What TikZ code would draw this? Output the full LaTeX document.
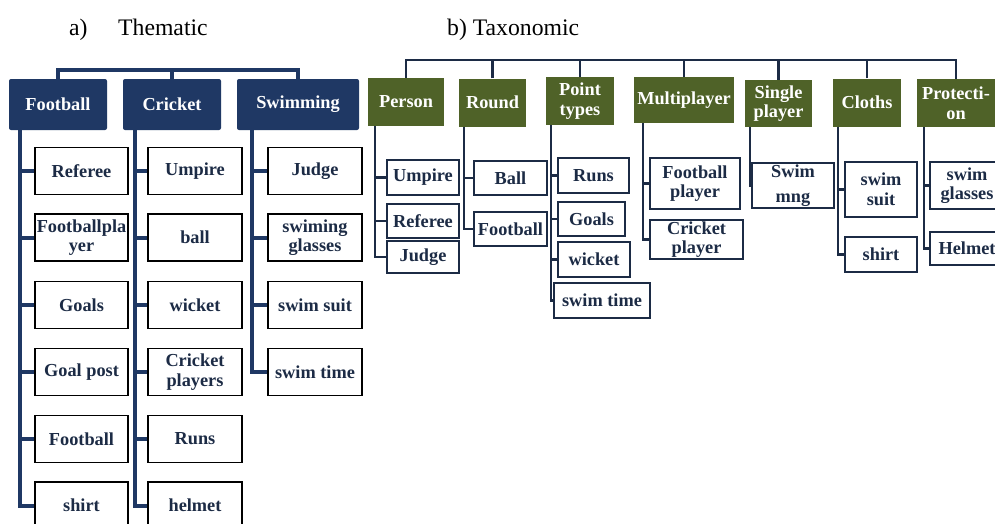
\documentclass[tikz,border=0pt]{standalone}
\usepackage{fontspec}
\setmainfont{Liberation Serif}
\usetikzlibrary{positioning}
\definecolor{hdblue}{HTML}{1F3864}
\definecolor{hdolive}{HTML}{4F6228}
\definecolor{lfink}{HTML}{1C2B45}
\newcommand{\lblfont}{\bfseries\fontsize{18.3}{19.5}\selectfont}
\newcommand{\ttlfont}{\fontsize{23.7}{26}\selectfont}

\begin{document}
\begin{tikzpicture}[x=1pt,y=-1pt]
\tikzstyle{every node}+=[inner sep=0pt]
\tikzstyle{thead}=[fill=hdblue,rounded corners=2pt,text=white,font=\lblfont,align=center,minimum height=51pt]
\tikzstyle{tleaf}=[draw=black,line width=1.8pt,fill=white,text=lfink,font=\lblfont,align=center,minimum height=47pt]
\tikzstyle{xhead}=[fill=hdolive,text=white,font=\lblfont,align=center,minimum height=48pt]
\tikzstyle{xleaf}=[draw=lfink,line width=1.9pt,fill=white,text=lfink,font=\lblfont,align=center]
\tikzstyle{tbus}=[draw=hdblue,line width=4pt]
\tikzstyle{xbus}=[draw=lfink,line width=2.1pt]
\clip (0,0) rectangle (995,523);
\fill [white] (0,0) rectangle (995,523);
\node [anchor=base west,font=\ttlfont] (tmlabel) at (69,35) {a)};
\node [anchor=base west,font=\ttlfont] (tmtitle) at (118,35) {Thematic};
\node [anchor=base west,font=\ttlfont] (txtitle) at (447,35) {b) Taxonomic};
\coordinate (ttop) at (0,70);
\coordinate (xtop) at (0,60);
\node [thead,minimum width=98pt] (fb) at (58,104.5) {Football};
\node [thead,minimum width=98pt] (ck) at (172,104.5) {Cricket};
\node [thead,minimum width=122pt] (sw) at (298,104.5) {Swimming};
\draw [tbus] (fb.north) -- (fb.north |- ttop) -| (sw.north);
\draw [tbus] (ck.north) -- (ck.north |- ttop);
\node [tleaf,minimum width=93pt] (fb1) at (81.5,171) {Referee};
\node [tleaf,minimum width=93pt] (fb2) at (81.5,237.5) {Footballpla\\yer};
\node [tleaf,minimum width=93pt] (fb3) at (81.5,305) {Goals};
\node [tleaf,minimum width=93pt] (fb4) at (81.5,372) {Goal post};
\node [tleaf,minimum width=93pt] (fb5) at (81.5,439) {Football};
\node [tleaf,minimum width=93pt] (fb6) at (81.5,505.5) {shirt};
\node [tleaf,minimum width=94pt] (ck1) at (195,171) {Umpire};
\node [tleaf,minimum width=94pt] (ck2) at (195,237.5) {ball};
\node [tleaf,minimum width=94pt] (ck3) at (195,305) {wicket};
\node [tleaf,minimum width=94pt] (ck4) at (195,372) {Cricket\\players};
\node [tleaf,minimum width=94pt] (ck5) at (195,439) {Runs};
\node [tleaf,minimum width=94pt] (ck6) at (195,505.5) {helmet};
\node [tleaf,minimum width=94pt] (sw1) at (315,171) {Judge};
\node [tleaf,minimum width=94pt] (sw2) at (315,237.5) {swiming\\glasses};
\node [tleaf,minimum width=94pt] (sw3) at (315,305) {swim suit};
\node [tleaf,minimum width=94pt] (sw4) at (315,372) {swim time};
\draw [tbus] ([xshift=11pt]fb.south west) |- (fb1.west);
\draw [tbus] ([xshift=11pt]fb.south west) |- (fb2.west);
\draw [tbus] ([xshift=11pt]fb.south west) |- (fb3.west);
\draw [tbus] ([xshift=11pt]fb.south west) |- (fb4.west);
\draw [tbus] ([xshift=11pt]fb.south west) |- (fb5.west);
\draw [tbus] ([xshift=11pt]fb.south west) |- (fb6.west);
\draw [tbus] ([xshift=12pt]ck.south west) |- (ck1.west);
\draw [tbus] ([xshift=12pt]ck.south west) |- (ck2.west);
\draw [tbus] ([xshift=12pt]ck.south west) |- (ck3.west);
\draw [tbus] ([xshift=12pt]ck.south west) |- (ck4.west);
\draw [tbus] ([xshift=12pt]ck.south west) |- (ck5.west);
\draw [tbus] ([xshift=12pt]ck.south west) |- (ck6.west);
\draw [tbus] ([xshift=15pt]sw.south west) |- (sw1.west);
\draw [tbus] ([xshift=15pt]sw.south west) |- (sw2.west);
\draw [tbus] ([xshift=15pt]sw.south west) |- (sw3.west);
\draw [tbus] ([xshift=15pt]sw.south west) |- (sw4.west);
\node [xhead,minimum width=76pt] (per) at (406,102) {Person};
\node [xhead,minimum width=67pt] (rnd) at (492.5,102.5) {Round};
\node [xhead,minimum width=68pt] (pnt) at (580,101) {Point\\types};
\node [xhead,minimum width=100pt,minimum height=46pt] (mpl) at (684,100) {Multiplayer};
\node [xhead,minimum width=67pt,minimum height=47pt] (spl) at (778.5,103.5) {Single\\player};
\node [xhead,minimum width=68pt] (clo) at (867,102.5) {Cloths};
\node [xhead,minimum width=78pt] (pro) at (956,103) {Protecti-\\on};
\draw [xbus] (per.north) -- (per.north |- xtop) -| (pro.north);
\draw [xbus] (rnd.north) -- (rnd.north |- xtop);
\draw [xbus] (pnt.north) -- (pnt.north |- xtop);
\draw [xbus] (mpl.north) -- (mpl.north |- xtop);
\draw [xbus] (spl.north) -- (spl.north |- xtop);
\draw [xbus] (clo.north) -- (clo.north |- xtop);
\node [xleaf,minimum width=72pt,minimum height=35pt] (per1) at (423,177.5) {Umpire};
\node [xleaf,minimum width=72pt,minimum height=34pt] (per2) at (423,221) {Referee};
\node [xleaf,minimum width=72pt,minimum height=32pt] (per3) at (423,257) {Judge};
\node [xleaf,minimum width=73pt,minimum height=34pt] (rnd1) at (510.5,178) {Ball};
\node [xleaf,minimum width=73pt,minimum height=34pt] (rnd2) at (510.5,229) {Football};
\node [xleaf,minimum width=71pt,minimum height=35pt] (pnt1) at (593.5,175.5) {Runs};
\node [xleaf,minimum width=67pt,minimum height=34pt] (pnt2) at (591.5,219) {Goals};
\node [xleaf,minimum width=72pt,minimum height=35pt] (pnt3) at (594,259.5) {wicket};
\node [xleaf,minimum width=96pt,minimum height=35pt] (pnt4) at (602,300.5) {swim time};
\node [xleaf,minimum width=90pt,minimum height=51pt] (mpl1) at (695,183.5) {Football\\player};
\node [xleaf,minimum width=93pt,minimum height=39pt] (mpl2) at (696.5,239.5) {Cricket\\player};
\node [xleaf,minimum width=82pt,minimum height=45pt] (spl1) at (793,185.5) {Swim\\[6pt]mng};
\node [xleaf,minimum width=72pt,minimum height=55pt] (clo1) at (881,189.5) {swim\\suit};
\node [xleaf,minimum width=72pt,minimum height=35pt] (clo2) at (881,254.5) {shirt};
\node [xleaf,minimum width=74pt,minimum height=47pt] (pro1) at (967,185.5) {swim\\glasses};
\node [xleaf,minimum width=74pt,minimum height=33pt] (pro2) at (967,248.5) {Helmet};
\draw [xbus] ([xshift=7pt]per.south west) |- (per1.west);
\draw [xbus] ([xshift=7pt]per.south west) |- (per2.west);
\draw [xbus] ([xshift=7pt]per.south west) |- (per3.west);
\draw [xbus] ([xshift=5pt]rnd.south west) |- (rnd1.west);
\draw [xbus] ([xshift=5pt]rnd.south west) |- (rnd2.west);
\draw [xbus] ([xshift=5pt]pnt.south west) |- (pnt1.west);
\draw [xbus] ([xshift=5pt]pnt.south west) |- (pnt2.west);
\draw [xbus] ([xshift=5pt]pnt.south west) |- (pnt3.west);
\draw [xbus] ([xshift=5pt]pnt.south west) |- (pnt4.west);
\draw [xbus] ([xshift=9pt]mpl.south west) |- (mpl1.west);
\draw [xbus] ([xshift=9pt]mpl.south west) |- (mpl2.west);
\draw [xbus] ([xshift=5pt]spl.south west) |- (spl1.west);
\draw [xbus] ([xshift=5pt]clo.south west) |- (clo1.west);
\draw [xbus] ([xshift=5pt]clo.south west) |- (clo2.west);
\draw [xbus] ([xshift=7pt]pro.south west) |- (pro1.west);
\draw [xbus] ([xshift=7pt]pro.south west) |- (pro2.west);
\end{tikzpicture}
\end{document}
